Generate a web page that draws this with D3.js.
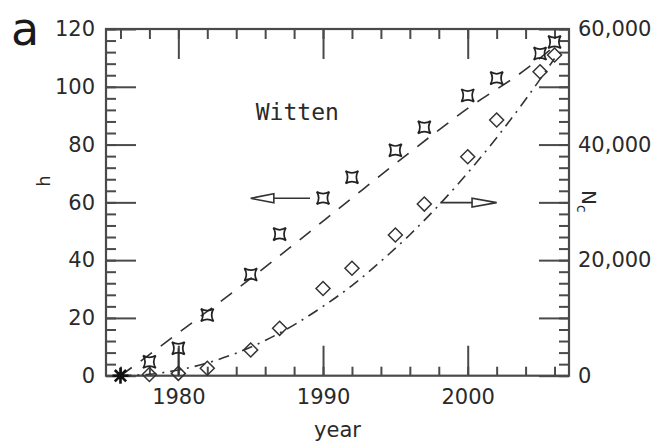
<!DOCTYPE html>
<html><head><meta charset="utf-8">
<script src="https://cdn.jsdelivr.net/npm/d3@7"></script>
<style>body{margin:0;background:#fff}svg{display:block}</style>
</head><body><svg id="c" width="662" height="443"></svg>
<script>
// ---- data ----
const years    = [1978, 1980, 1982, 1985, 1987, 1990, 1992, 1995, 1997, 2000, 2002, 2005, 2006];
const hValues  = [4.8, 9.5, 21, 35, 49, 61.5, 68.7, 78, 86, 97, 103, 111.5, 115.5];
const ncValues = [200, 400, 1300, 4450, 8200, 15100, 18600, 24350, 29700, 37900, 44250, 52600, 55500];
const originYear = 1976;          // both series start at zero
const hFitYears  = [1976, 1978, 1980, 1984, 1988, 1992, 1996, 2000, 2004, 2006];
const hFitValues = [0, 7.3, 14.8, 29.8, 45.5, 61.5, 77.3, 92.5, 106, 114];
const ncFitYears  = [1976, 1978, 1980, 1982, 1984, 1986, 1988, 1990, 1992, 1994, 1996, 1998, 2000, 2002, 2004, 2006];
const ncFitValues = [0, 250, 1000, 2200, 3900, 6100, 8800, 12000, 15600, 19800, 24400, 29500, 35100, 41200, 47800, 54900];
const xMajorTicks = [1980, 1990, 2000];
const xMinorTicks = d3.range(1976, 2007, 2);
const hMajorTicks = [0, 20, 40, 60, 80, 100, 120];
const hMinorTicks = d3.range(0, 121, 4);
const ncLabelTicks = [0, 20000, 40000, 60000];
const ncMajorTicks = d3.range(0, 60001, 10000);
const ncMinorTicks = d3.range(0, 60001, 2000);

// ---- layout ----
const W = 662, H = 443;
const m = {top: 29, right: 93, bottom: 67.3, left: 106};
const svg = d3.select("#c");
const x  = d3.scaleLinear().domain([1975, 2007]).range([m.left, W - m.right]);
const yL = d3.scaleLinear().domain([0, 120]).range([H - m.bottom, m.top]);
const yR = d3.scaleLinear().domain([0, 60000]).range([H - m.bottom, m.top]);
const axisColor = "#4a4a4a", ink = "#2a2a2a";
const FONT = "DejaVu Sans, sans-serif";

function styleAxis(g) {
  g.select(".domain").remove();
  g.selectAll(".tick line").attr("stroke", axisColor).attr("stroke-width", 2);
  g.selectAll(".tick text").attr("fill", ink).style("font-family", FONT).style("font-size", "21px");
}
const bottomY = H - m.bottom, rightX = W - m.right;

// bottom axis
svg.append("g").attr("transform", `translate(0,${bottomY})`)
  .call(d3.axisBottom(x).tickValues(xMinorTicks).tickSize(-9).tickFormat(""))
  .call(styleAxis);
svg.append("g").attr("transform", `translate(0,${bottomY})`)
  .call(d3.axisBottom(x).tickValues(xMajorTicks).tickSize(-30).tickPadding(13).tickFormat(d3.format("d")))
  .call(styleAxis);
// top axis
svg.append("g").attr("transform", `translate(0,${m.top})`)
  .call(d3.axisTop(x).tickValues(xMinorTicks).tickSize(-10).tickFormat(""))
  .call(styleAxis);
svg.append("g").attr("transform", `translate(0,${m.top})`)
  .call(d3.axisTop(x).tickValues(xMajorTicks).tickSize(-30).tickFormat(""))
  .call(styleAxis);
// left axis
svg.append("g").attr("transform", `translate(${m.left},0)`)
  .call(d3.axisLeft(yL).tickValues(hMinorTicks).tickSize(-10).tickFormat(""))
  .call(styleAxis);
svg.append("g").attr("transform", `translate(${m.left},0)`)
  .call(d3.axisLeft(yL).tickValues(hMajorTicks).tickSize(-30).tickPadding(11).tickFormat(d3.format("d")))
  .call(styleAxis);
// right axis
svg.append("g").attr("transform", `translate(${rightX},0)`)
  .call(d3.axisRight(yR).tickValues(ncMinorTicks).tickSize(-10).tickFormat(""))
  .call(styleAxis);
svg.append("g").attr("transform", `translate(${rightX},0)`)
  .call(d3.axisRight(yR).tickValues(ncMajorTicks).tickSize(-30).tickFormat(""))
  .call(styleAxis);
svg.append("g").attr("transform", `translate(${rightX},0)`)
  .call(d3.axisRight(yR).tickValues(ncLabelTicks).tickSize(0).tickPadding(9).tickFormat(d3.format(",")))
  .call(styleAxis);

// frame
svg.append("rect").attr("x", m.left).attr("y", m.top)
  .attr("width", rightX - m.left).attr("height", bottomY - m.top)
  .attr("fill", "none").attr("stroke", axisColor).attr("stroke-width", 2.2);

// fit curves
const lineH = d3.line().x((d, i) => x(hFitYears[i])).y(d => yL(d)).curve(d3.curveMonotoneX);
svg.append("path").attr("d", lineH(hFitValues)).attr("fill", "none")
  .attr("stroke", "#333").attr("stroke-width", 1.6).attr("stroke-dasharray", "14,11");
const lineN = d3.line().x((d, i) => x(ncFitYears[i])).y(d => yR(d)).curve(d3.curveMonotoneX);
svg.append("path").attr("d", lineN(ncFitValues)).attr("fill", "none")
  .attr("stroke", "#333").attr("stroke-width", 1.6).attr("stroke-dasharray", "11,6,2,6");

// error-bar like line at 1980
svg.append("line").attr("x1", x(years[1])).attr("x2", x(years[1]))
  .attr("y1", yL(hValues[1])).attr("y2", yL(0))
  .attr("stroke", "#333").attr("stroke-width", 1.5);

// markers
const s = 6.3, c = 2.4;
const hPath = `M${-s},${-s} Q0,${-c} ${s},${-s} Q${c},0 ${s},${s} Q0,${c} ${-s},${s} Q${-c},0 ${-s},${-s}Z`;
const dPath = "M0,-7 L7,0 L0,7 L-7,0Z";
svg.append("g").selectAll("path").data(ncValues).join("path")
  .attr("transform", (d, i) => `translate(${x(years[i])},${yR(d)})`)
  .attr("d", dPath).attr("fill", "none").attr("stroke", "#333").attr("stroke-width", 1.5);
svg.append("g").selectAll("path").data(hValues).join("path")
  .attr("transform", (d, i) => `translate(${x(years[i])},${yL(d)})`)
  .attr("d", hPath).attr("fill", "none").attr("stroke", "#222").attr("stroke-width", 1.7);

// origin star
const star = svg.append("g").attr("transform", `translate(${x(originYear)},${yL(0)})`);
[0, 45, 90, 135].forEach(a => {
  star.append("line").attr("x1", -8).attr("x2", 8).attr("y1", 0).attr("y2", 0)
    .attr("transform", `rotate(${a})`).attr("stroke", "#111").attr("stroke-width", 2.6);
});
star.append("circle").attr("r", 3.5).attr("fill", "#111");

// arrows
function arrow(x0, x1, xTip, yv, hh) {
  svg.append("line").attr("x1", x0).attr("x2", x1).attr("y1", yv).attr("y2", yv)
    .attr("stroke", "#333").attr("stroke-width", 1.6);
  svg.append("path").attr("d", `M${xTip},${yv} L${x1},${yv - hh} L${x1},${yv + hh}Z`)
    .attr("fill", "none").attr("stroke", "#333").attr("stroke-width", 1.6);
}
arrow(x(1989.1), x(1986.6), x(1985), yL(61.4), 4.5);
arrow(x(1998.1), x(2000.3), x(2002.0), yR(29950), 4.5);

// texts
svg.append("text").attr("x", x(1985.35)).attr("y", yL(88.4))
  .style("font-family", "DejaVu Sans Mono, monospace").style("font-size", "23px")
  .attr("fill", ink).text("Witten");
svg.append("text").attr("x", 11).attr("y", 45)
  .style("font-family", FONT).style("font-size", "46px").attr("fill", "#1a1a1a").text("a");
svg.append("text").attr("x", (m.left + rightX) / 2).attr("y", 437).attr("text-anchor", "middle")
  .style("font-family", FONT).style("font-size", "21px").attr("fill", ink).text("year");
svg.append("text").attr("transform", `translate(50,181) rotate(-90)`).attr("text-anchor", "middle")
  .style("font-family", FONT).style("font-size", "18px").attr("fill", ink).text("h");
const nc = svg.append("text").attr("transform", `translate(582,190) rotate(90)`)
  .style("font-family", FONT).style("font-size", "20px").attr("fill", ink);
nc.append("tspan").text("N");
nc.append("tspan").attr("dy", 5).style("font-size", "14px").text("c");
</script></body></html>
